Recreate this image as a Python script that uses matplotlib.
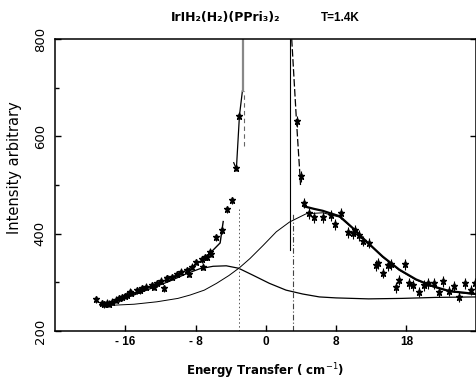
import matplotlib
matplotlib.use("Agg")
import matplotlib.pyplot as plt
import numpy as np

plt.rcParams['font.family'] = ['Liberation Sans', 'DejaVu Sans']

# measured points (energy transfer, intensity)
left_x = [-19.3, -18.7, -18.4, -18.1, -17.8, -17.5, -17.0, -16.7, -16.4, -16.0, -15.8, -15.5,
          -15.3, -14.7, -14.3, -14.1, -13.6, -13.0, -12.7, -12.4, -11.9, -11.6, -11.3, -11.2,
          -10.7, -10.1, -9.6, -9.0, -8.7, -8.4, -7.9, -7.3, -7.2, -6.9, -6.7, -6.4, -6.2,
          -5.7, -5.0, -4.4, -3.8, -3.4, -3.0]
left_y = [265, 257, 255, 258, 256, 260, 264, 267, 269, 272, 274, 281,
          279, 284, 284, 288, 291, 294, 291, 298, 303, 288, 308, 308,
          311, 317, 322, 325, 318, 332, 342, 347, 332, 352, 352, 363, 359,
          393, 407, 450, 469, 535, 643]

right_x = [3.5, 4.0, 4.3, 4.9, 5.5, 6.5, 7.4, 7.9, 8.6, 9.3, 9.9, 10.1, 10.6, 11.1, 11.7,
           12.5, 12.8, 13.3, 13.9, 14.2, 14.8, 15.2, 15.8, 16.3, 16.8, 17.4, 18.0, 18.5,
           19.1, 19.7, 20.2, 20.8, 21.4, 22.0, 22.7, 23.4, 23.8]
right_y = [631, 518, 463, 442, 434, 434, 438, 419, 442, 403, 401, 407, 397, 385, 381,
           335, 339, 319, 335, 337, 290, 305, 337, 298, 294, 280, 294, 298,
           298, 280, 302, 282, 292, 270, 298, 284, 298]

# fitted curves
comp1_x = [-18.9, -17, -15, -13, -11, -9, -7.5, -6, -4.5, -3.1, -1.5, 0.4, 2.3, 4.2,
           6.1, 8, 11.7, 15.5, 19.3, 23.9]
comp1_y = [254, 262, 274, 288, 302, 318, 328, 333, 334, 329, 315, 298, 284, 276,
           270, 268, 266, 267, 269, 270]

comp2_x = [-18.5, -15, -12.4, -10, -8.6, -7, -5.6, -4.2, -3.0, -1.8, -0.3, 1.2, 2.7,
           4.6, 6.5, 8.4, 10.3, 11.1, 13.3, 15.2, 17.1, 19.0, 20.9, 23.9]
comp2_y = [252, 255, 260, 267, 274, 284, 298, 314, 330, 349, 376, 404, 424,
           441, 443, 434, 405, 390, 352, 325, 305, 291, 281, 275]

total_left_x = [-18.9, -17, -15, -13, -11, -9, -7, -5.2, -4.85]
total_left_y = [254, 262, 276, 292, 308, 325, 348, 381, 425]

total_right_x = [4.4, 5.5, 6.5, 7.5, 8.4, 10.3, 11.1, 13.3, 15.2, 17.1, 19.0, 20.9, 23.9]
total_right_y = [456, 451, 447, 441, 436, 405, 390, 353, 326, 306, 292, 282, 276]

steep_left_x = [-3.65, -3.35, -3.0, -2.66]
steep_left_y = [546, 533, 643, 694]
steep_right_x = [2.95, 3.5, 3.9, 3.95]
steep_right_y = [800, 629, 516, 500]

x_ticks = [-16, -8, 0, 8, 16]
x_tick_labels = ['- 16', '- 8', '0', '8', '18']
y_ticks = [200, 400, 600, 800]
y_minor = [300, 500, 700]

fig = plt.figure(figsize=(4.76, 3.8), dpi=100)
ax = fig.add_axes([0.1155, 0.129, 0.884, 0.768])

ax.plot(comp1_x, comp1_y, color='black', lw=0.9)
ax.plot(comp2_x, comp2_y, color='black', lw=0.7)
ax.plot(total_left_x, total_left_y, color='black', lw=1.0)
ax.plot(total_right_x, total_right_y, color='black', lw=1.6)
ax.plot(steep_left_x, steep_left_y, color='black', lw=0.9)
ax.plot(steep_right_x, steep_right_y, color='black', lw=0.9, ls=(0, (6, 2)))

# elastic line markers
ax.plot([-2.6, -2.6], [694, 800], color='#888888', lw=1.6)
ax.plot([-2.45, -2.45], [580, 694], color='#666666', lw=0.8, ls=(0, (4, 3)))
ax.plot([-3.0, -3.0], [200, 450], color='#555555', lw=0.7, ls=(0, (1.5, 2.5)))
ax.plot([2.7, 2.7], [366, 800], color='black', lw=0.8)
ax.plot([3.05, 3.05], [200, 440], color='#444444', lw=0.8, ls=(0, (5, 2, 1, 2)))

ax.errorbar(left_x, left_y, yerr=7, fmt='*', color='black', ms=4.5, elinewidth=0.8, capsize=0)
ax.errorbar(right_x, right_y, yerr=11, fmt='*', color='black', ms=4.5, elinewidth=0.8, capsize=0)

ax.set_xlim(-24, 23.9)
ax.set_ylim(200, 800)
ax.set_xticks(x_ticks)
ax.set_xticklabels(x_tick_labels, fontsize=8.5, fontweight='bold')
ax.set_yticks(y_ticks)
ax.set_yticks(y_minor, minor=True)
ax.set_yticklabels([str(v) for v in y_ticks], rotation=90, va='center',
                   fontsize=9.5, family='DejaVu Sans')
ax.tick_params(direction='in', length=4, width=1)
ax.tick_params(which='minor', direction='in', length=3, width=1)
ax.tick_params(axis='y', right=True, pad=6)
for s in ax.spines.values():
    s.set_linewidth(1.1)

ax.set_xlabel('Energy Transfer ( cm$^{-1}$)', fontsize=8.5, fontweight='bold',
              family='DejaVu Sans', labelpad=10)
ax.set_ylabel('Intensity arbitrary', fontsize=10.5, family='DejaVu Sans')
ax.yaxis.set_label_coords(-0.078, 0.56)

fig.text(0.473, 0.953, 'IrIH₂(H₂)(PPri₃)₂', ha='center', va='center', fontsize=9,
         fontweight='bold', family='DejaVu Sans')
fig.text(0.714, 0.953, 'T=1.4K', ha='center', va='center', fontsize=8.5, fontweight='bold')

fig.savefig('out.png', dpi=100)
